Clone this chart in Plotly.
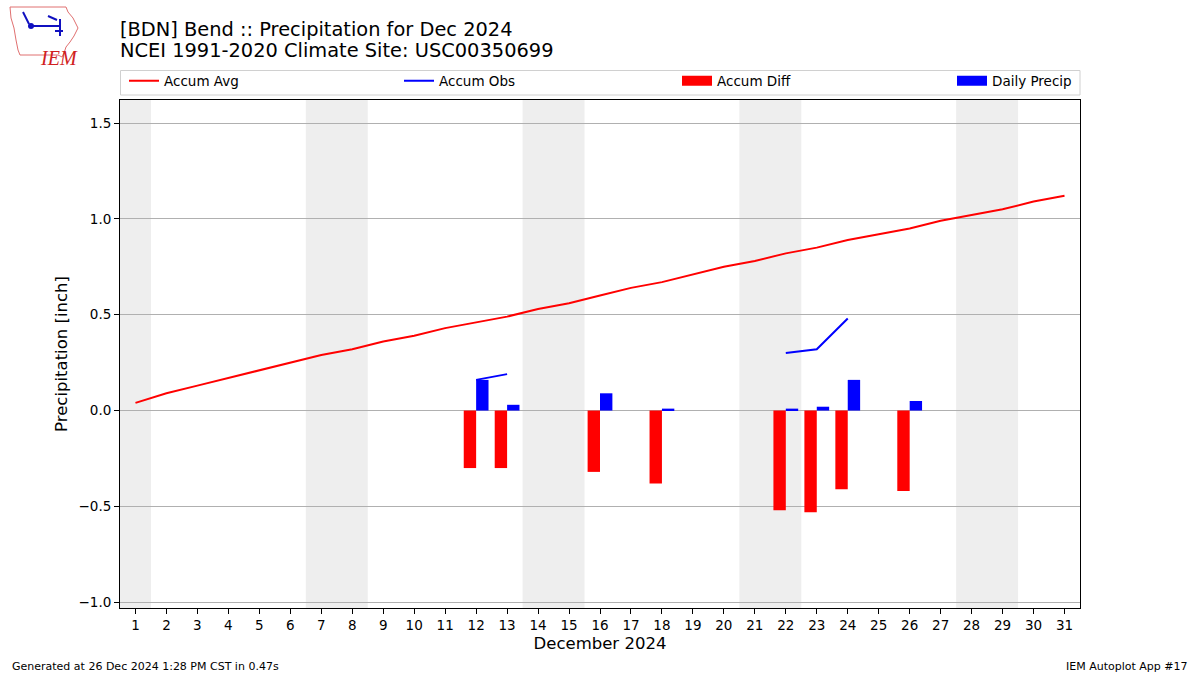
import datetime
import plotly.graph_objects as go

# ---------------- data ----------------
days = list(range(1, 32))
accum_avg = [0.04, 0.09, 0.13, 0.17, 0.21, 0.25, 0.29, 0.32, 0.36, 0.39,
             0.43, 0.46, 0.49, 0.53, 0.56, 0.60, 0.64, 0.67, 0.71, 0.75,
             0.78, 0.82, 0.85, 0.89, 0.92, 0.95, 0.99, 1.02, 1.05, 1.09, 1.12]
obs_days = [12, 13, 16, 18, 22, 23, 24, 26]
obs_accum = [0.16, 0.19, 0.28, 0.29, 0.30, 0.32, 0.48, 0.53]
daily_precip = [0.16, 0.03, 0.09, 0.01, 0.01, 0.02, 0.16, 0.05]
accum_diff = [-0.30, -0.30, -0.32, -0.38, -0.52, -0.53, -0.41, -0.42]
y_ticks = [-1.0, -0.5, 0.0, 0.5, 1.0, 1.5]
year, month = 2024, 12

FONT = "DejaVu Sans"
W, H = 1200, 675
ML, MR, MT, MB = 120, 120, 100, 67
PW, PH = W - ML - MR, H - MT - MB


def px(xp):
    return (xp - ML) / PW


def py(yp):
    return (H - MB - yp) / PH


obs_full = [None] * len(days)
for d, v in zip(obs_days, obs_accum):
    obs_full[days.index(d)] = v

fig = go.Figure()

# weekend shading (merge consecutive weekend days into one band)
weekend = [d for d in days if datetime.date(year, month, d).weekday() >= 5]
bands = []
for d in weekend:
    if bands and bands[-1][1] == d - 1:
        bands[-1][1] = d
    else:
        bands.append([d, d])
for a, b in bands:
    fig.add_vrect(x0=a - 0.5, x1=b + 0.5, fillcolor="#eeeeee", opacity=1,
                  line_width=0, layer="below")

fig.add_trace(go.Scatter(x=days, y=accum_avg, mode="lines",
                         line=dict(color="red", width=2),
                         name="Accum Avg", legend="legend"))
fig.add_trace(go.Scatter(x=days, y=obs_full, mode="lines",
                         line=dict(color="blue", width=2),
                         connectgaps=False,
                         name="Accum Obs", legend="legend2"))
fig.add_trace(go.Bar(x=obs_days, y=accum_diff, width=0.4, offset=-0.4,
                     marker=dict(color="red", line=dict(width=0)),
                     name="Accum Diff", showlegend=False))
fig.add_trace(go.Bar(x=obs_days, y=daily_precip, width=0.4, offset=0,
                     marker=dict(color="blue", line=dict(width=0)),
                     name="Daily Precip", showlegend=False))
# legend-only handles resembling matplotlib bar patches
fig.add_trace(go.Scatter(x=[None], y=[None], mode="lines",
                         line=dict(color="red", width=10),
                         name="Accum Diff", legend="legend3"))
fig.add_trace(go.Scatter(x=[None], y=[None], mode="lines",
                         line=dict(color="blue", width=10),
                         name="Daily Precip", legend="legend4"))

leg_common = dict(orientation="h", xanchor="left", yanchor="middle",
                  bgcolor="rgba(0,0,0,0)", borderwidth=0,
                  font=dict(family=FONT, size=13.5, color="black"))
leg_y = py(81)
legend_xs = [124, 399, 677, 952]

# legend frame
fig.add_shape(type="rect", xref="paper", yref="paper",
              x0=px(120.5), x1=px(1080), y0=py(95), y1=py(70.5),
              line=dict(color="#d0d0d0", width=1), fillcolor="rgba(255,255,255,0.8)",
              layer="above")

# logo (decorative approximation)
iowa = [(10, 7), (66, 7), (68, 12), (73, 18), (78, 28), (74, 36), (70, 42),
        (66, 47), (64, 53), (62, 57), (58, 55), (20, 55), (18, 50), (16, 40),
        (14, 28), (11, 18)]
path = "M " + " L ".join(f"{px(a):.5f},{py(b):.5f}" for a, b in iowa) + " Z"
fig.add_shape(type="path", path=path, xref="paper", yref="paper",
              line=dict(color="#e07070", width=1))
for (a0, b0, a1, b1) in [(30, 26, 60, 26), (60, 19, 60, 36), (48, 16, 57, 20),
                         (23, 12, 29, 24), (55, 31, 63, 31)]:
    fig.add_shape(type="line", xref="paper", yref="paper",
                  x0=px(a0), y0=py(b0), x1=px(a1), y1=py(b1),
                  line=dict(color="#1010c0", width=2))
fig.add_shape(type="circle", xref="paper", yref="paper",
              x0=px(28), x1=px(34), y0=py(29), y1=py(23),
              fillcolor="#1010c0", line=dict(width=0))
fig.add_annotation(text="<i>IEM</i>", xref="paper", yref="paper",
                   x=px(38), y=py(45), showarrow=False,
                   font=dict(family="Liberation Serif", size=20, color="#d02020"))

# titles
fig.add_annotation(text="[BDN] Bend :: Precipitation for Dec 2024",
                   xref="paper", yref="paper", x=px(118), y=py(29),
                   xanchor="left", yanchor="middle", showarrow=False,
                   font=dict(family=FONT, size=19.4, color="black"))
fig.add_annotation(text="NCEI 1991-2020 Climate Site: USC00350699",
                   xref="paper", yref="paper", x=px(118), y=py(51),
                   xanchor="left", yanchor="middle", showarrow=False,
                   font=dict(family=FONT, size=19.4, color="black"))
# footers
fig.add_annotation(text="Generated at 26 Dec 2024 1:28 PM CST in 0.47s",
                   xref="paper", yref="paper", x=px(10), y=py(666),
                   xanchor="left", yanchor="middle", showarrow=False,
                   font=dict(family=FONT, size=11, color="black"))
fig.add_annotation(text="IEM Autoplot App #17",
                   xref="paper", yref="paper", x=px(1190), y=py(666),
                   xanchor="right", yanchor="middle", showarrow=False,
                   font=dict(family=FONT, size=11, color="black"))

fig.update_layout(
    width=W, height=H,
    margin=dict(l=ML, r=MR, t=MT, b=MB, autoexpand=False),
    paper_bgcolor="white", plot_bgcolor="white",
    barmode="overlay",
    font=dict(family=FONT, size=13.5, color="black"),
    legend=dict(x=px(legend_xs[0]), y=leg_y, **leg_common),
    legend2=dict(x=px(legend_xs[1]), y=leg_y, **leg_common),
    legend3=dict(x=px(legend_xs[2]), y=leg_y, **leg_common),
    legend4=dict(x=px(legend_xs[3]), y=leg_y, **leg_common),
    xaxis=dict(range=[0.5, 31.5], tickmode="array", tickvals=days,
               ticktext=[str(d) for d in days],
               showgrid=False, zeroline=False,
               showline=True, mirror=True, linecolor="black", linewidth=1,
               ticks="outside", ticklen=5, tickcolor="black",
               tickfont=dict(family=FONT, size=13.5),
               title=dict(text="December 2024", standoff=5,
                          font=dict(family=FONT, size=16.5))),
    yaxis=dict(range=[-1.03, 1.62], tickmode="array", tickvals=y_ticks,
               tickformat=".1f",
               showgrid=True, gridcolor="#b0b0b0", gridwidth=1,
               zeroline=False,
               showline=True, mirror=True, linecolor="black", linewidth=1,
               ticks="outside", ticklen=5, tickcolor="black",
               tickfont=dict(family=FONT, size=13.5),
               title=dict(text="Precipitation [inch]", standoff=6,
                          font=dict(family=FONT, size=16.5))),
)

fig.write_html("out.html",
               config={"displayModeBar": False},
               post_script="document.body.style.margin='0';"
                           "document.body.style.overflow='hidden';")
